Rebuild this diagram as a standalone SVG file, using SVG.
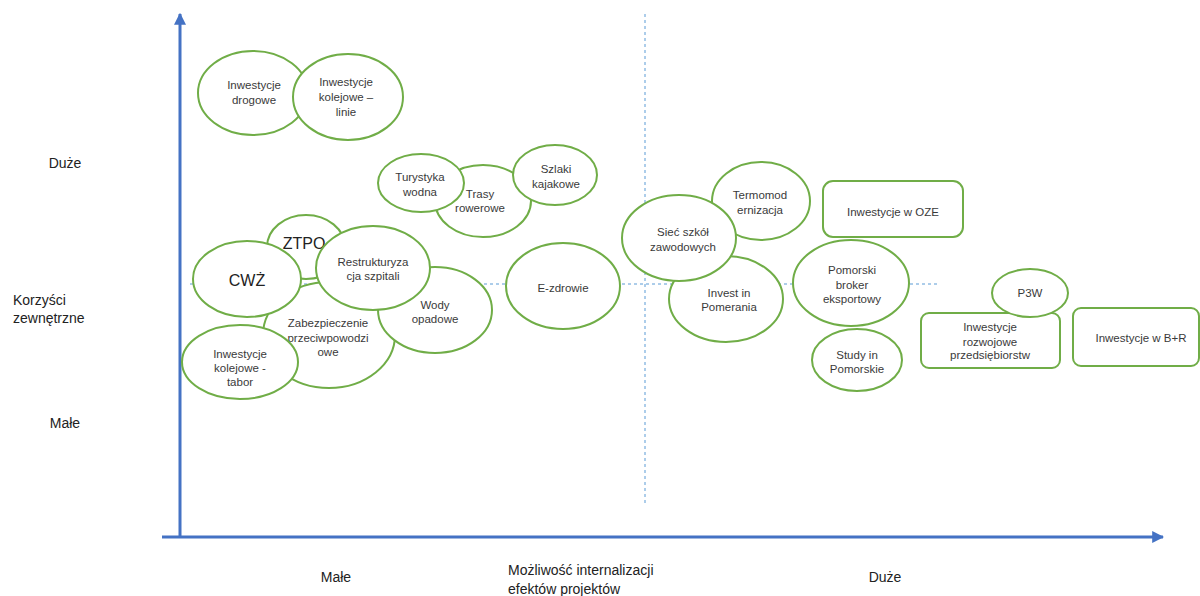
<svg xmlns="http://www.w3.org/2000/svg" width="1200" height="596" viewBox="0 0 1200 596">
<defs>
<style>
.n{fill:#fff;stroke:#70AD47;stroke-width:2}
.t{font-family:"Liberation Sans",Arial,sans-serif;font-size:11.5px;fill:#3a3a3a;text-anchor:middle}
.big{font-size:16px;fill:#222}
.ax{font-family:"Liberation Sans",Arial,sans-serif;font-size:14px;fill:#222}
.axis{stroke:#4472C4;stroke-width:3;fill:none}
.dash{stroke:#5B9BD5;stroke-width:1;stroke-dasharray:3,3;fill:none}
</style>
<marker id="ah" viewBox="0 0 10 10" refX="9" refY="5" markerWidth="4" markerHeight="4" orient="auto" markerUnits="strokeWidth">
<path d="M0,0 L10,5 L0,10 z" fill="#4472C4"/>
</marker>
</defs>
<rect width="1200" height="596" fill="#fff"/>
<g id="connectors">
<line class="dash" x1="645" y1="14" x2="645" y2="505"/>
<line class="dash" x1="190" y1="284" x2="940" y2="284"/>
<line class="axis" x1="180" y1="538" x2="180" y2="14" marker-end="url(#ah)"/>
<line class="axis" x1="162" y1="537" x2="1163" y2="537" marker-end="url(#ah)"/>
</g>
<g id="axis-labels">
<text class="ax" x="65" y="168" text-anchor="middle">Duże</text>
<text class="ax" x="13" y="305">Korzyści</text>
<text class="ax" x="13" y="323">zewnętrzne</text>
<text class="ax" x="65" y="428" text-anchor="middle">Małe</text>
<text class="ax" x="336" y="582" text-anchor="middle">Małe</text>
<text class="ax" x="508" y="575">Możliwość internalizacji</text>
<text class="ax" x="508" y="594">efektów projektów</text>
<text class="ax" x="885" y="582" text-anchor="middle">Duże</text>
</g>
<g id="inwestycje-drogowe"><ellipse class="n" cx="253" cy="93" rx="55" ry="42"/><text class="t" x="254" y="89">Inwestycje</text><text class="t" x="254" y="104">drogowe</text></g>
<g id="inwestycje-kolejowe-linie"><ellipse class="n" cx="348" cy="97" rx="55" ry="43"/><text class="t" x="346" y="86">Inwestycje</text><text class="t" x="346" y="101">kolejowe –</text><text class="t" x="346" y="116">linie</text></g>
<g id="trasy-rowerowe"><ellipse class="n" cx="483" cy="201" rx="48" ry="36"/><text class="t" x="480" y="198">Trasy</text><text class="t" x="480" y="212">rowerowe</text></g>
<g id="turystyka-wodna"><ellipse class="n" cx="421" cy="183" rx="43" ry="29"/><text class="t" x="420" y="181">Turystyka</text><text class="t" x="420" y="196">wodna</text></g>
<g id="szlaki-kajakowe"><ellipse class="n" cx="555" cy="175" rx="42" ry="30"/><text class="t" x="556" y="173">Szlaki</text><text class="t" x="556" y="188">kajakowe</text></g>
<g id="zabezpieczenie"><ellipse class="n" cx="329" cy="335" rx="66" ry="53"/><text class="t" x="328" y="327">Zabezpieczenie</text><text class="t" x="328" y="342">przeciwpowodzi</text><text class="t" x="328" y="356">owe</text></g>
<g id="wody-opadowe"><ellipse class="n" cx="435" cy="310" rx="57" ry="43"/><text class="t" x="435" y="309">Wody</text><text class="t" x="435" y="323">opadowe</text></g>
<g id="ztpo"><ellipse class="n" cx="306" cy="247" rx="39" ry="32"/><text class="t big" x="304" y="249">ZTPO</text></g>
<g id="cwz"><ellipse class="n" cx="247" cy="279" rx="54" ry="38"/><text class="t big" x="247" y="286">CWŻ</text></g>
<g id="restrukturyzacja"><ellipse class="n" cx="373" cy="268" rx="57" ry="42"/><text class="t" x="373" y="266">Restrukturyza</text><text class="t" x="373" y="280">cja szpitali</text></g>
<g id="inwestycje-kolejowe-tabor"><ellipse class="n" cx="240" cy="362" rx="58" ry="37"/><text class="t" x="240" y="358">Inwestycje</text><text class="t" x="240" y="372">kolejowe -</text><text class="t" x="240" y="386">tabor</text></g>
<g id="e-zdrowie"><ellipse class="n" cx="563" cy="286" rx="57" ry="43"/><text class="t" x="563" y="292">E-zdrowie</text></g>
<g id="termomodernizacja"><ellipse class="n" cx="761" cy="201" rx="49" ry="39"/><text class="t" x="760" y="199">Termomod</text><text class="t" x="760" y="214">ernizacja</text></g>
<g id="invest-in-pomerania"><ellipse class="n" cx="726" cy="299" rx="57" ry="43"/><text class="t" x="729" y="297">Invest in</text><text class="t" x="729" y="311">Pomerania</text></g>
<g id="siec-szkol"><ellipse class="n" cx="679" cy="238" rx="57" ry="43"/><text class="t" x="683" y="236">Sieć szkół</text><text class="t" x="683" y="251">zawodowych</text></g>
<g id="inwestycje-oze"><rect class="n" x="823" y="181" width="140" height="56" rx="10"/><text class="t" x="893" y="216">Inwestycje w OZE</text></g>
<g id="pomorski-broker"><ellipse class="n" cx="851" cy="283" rx="58" ry="43"/><text class="t" x="852" y="274">Pomorski</text><text class="t" x="852" y="289">broker</text><text class="t" x="852" y="303">eksportowy</text></g>
<g id="study-in-pomorskie"><ellipse class="n" cx="857" cy="360" rx="45" ry="31"/><text class="t" x="857" y="359">Study in</text><text class="t" x="857" y="373">Pomorskie</text></g>
<g id="inwestycje-rozwojowe"><rect class="n" x="921" y="313" width="139" height="55" rx="8"/><text class="t" x="990" y="331">Inwestycje</text><text class="t" x="990" y="346">rozwojowe</text><text class="t" x="990" y="359">przedsiębiorstw</text></g>
<g id="p3w"><ellipse class="n" cx="1030" cy="293" rx="38" ry="24"/><text class="t" x="1030" y="297">P3W</text></g>
<g id="inwestycje-br"><rect class="n" x="1073" y="308" width="126" height="58" rx="8"/><text class="t" x="1141" y="342">Inwestycje w B+R</text></g>
</svg>
